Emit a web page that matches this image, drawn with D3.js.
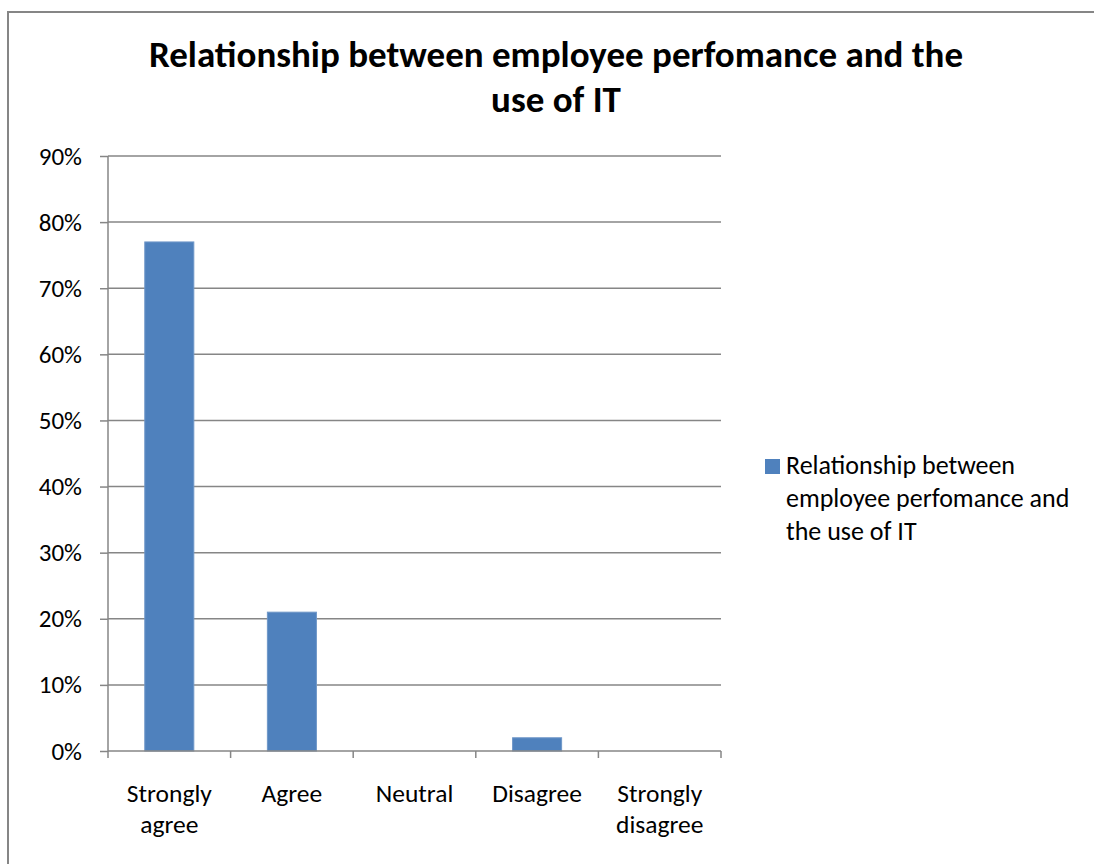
<!DOCTYPE html>
<html><head><meta charset="utf-8">
<script src="https://cdn.jsdelivr.net/npm/d3@7"></script>
<style>body{margin:0;background:#fff}svg{display:block}</style>
</head><body>
<script>
const categories = [["Strongly","agree"],["Agree"],["Neutral"],["Disagree"],["Strongly","disagree"]];
const values = [0.77, 0.21, 0, 0.02, 0];
const yTicks = [0,0.1,0.2,0.3,0.4,0.5,0.6,0.7,0.8,0.9];
const titleLines = ["Relationship between employee perfomance and the","use of IT"];
const legendLines = ["Relationship between","employee perfomance and","the use of IT"];

(function(){
const W=1094,H=864;
const svg=d3.select("body").append("svg").attr("width",W).attr("height",H);
const font="Calibri, Carlito, 'Open Sans', sans-serif";
svg.append("rect").attr("x",8).attr("y",12).attr("width",W).attr("height",H).attr("fill","#fff").attr("stroke","#868686").attr("stroke-width",2);

const pL=108,pR=721,pT=156,pB=751;
const x=d3.scaleBand().domain(d3.range(categories.length)).range([pL,pR]).paddingInner(0.6).paddingOuter(0.3);
const y=d3.scaleLinear().domain([0,0.9]).range([pB,pT]);

svg.append("g").selectAll("line").data(yTicks.filter(d=>d>0)).join("line")
 .attr("x1",pL).attr("x2",pR).attr("y1",d=>y(d)).attr("y2",d=>y(d))
 .attr("stroke","#868686").attr("stroke-width",1.5);

const ya=svg.append("g").attr("transform",`translate(${pL},0)`)
 .call(d3.axisLeft(y).tickValues(yTicks).tickFormat(d3.format(".0%")).tickSize(8).tickPadding(18));
ya.select(".domain").attr("stroke","#868686").attr("stroke-width",1.5).attr("d",`M0,${pB}V${pT}`);
ya.selectAll(".tick line").attr("stroke","#868686").attr("stroke-width",1.5);
ya.selectAll(".tick text").attr("font-family",font).attr("font-size",25).attr("fill","#000");

svg.append("g").selectAll("rect").data(values).join("rect")
 .attr("x",(d,i)=>x(i)).attr("width",x.bandwidth())
 .attr("y",d=>y(d)).attr("height",d=>pB-y(d))
 .attr("fill","#4f81bd").attr("stroke","#6f97c8").attr("stroke-width",1);

const boundaries=d3.range(categories.length+1).map(i=>pL+i*x.step());
svg.append("line").attr("x1",pL).attr("x2",pR).attr("y1",pB).attr("y2",pB).attr("stroke","#868686").attr("stroke-width",1.5);
svg.append("g").selectAll("line").data(boundaries).join("line")
 .attr("x1",d=>d).attr("x2",d=>d).attr("y1",pB).attr("y2",pB+7)
 .attr("stroke","#868686").attr("stroke-width",1.5);
const xl=svg.append("g").selectAll("text").data(categories).join("text")
 .attr("x",(d,i)=>x(i)+x.bandwidth()/2).attr("y",pB+51)
 .attr("text-anchor","middle").attr("font-family",font).attr("font-size",25.5).attr("fill","#000");
xl.selectAll("tspan").data(d=>d).join("tspan").attr("x",function(){return this.parentNode.getAttribute("x");})
 .attr("dy",(d,i)=>i?31:0).text(d=>d);

svg.append("g").selectAll("text").data(titleLines).join("text")
 .attr("x",556).attr("y",(d,i)=>67+i*45).attr("text-anchor","middle")
 .attr("font-family",font).attr("font-weight","bold").attr("font-size",37).attr("fill","#000").text(d=>d);

svg.append("rect").attr("x",765).attr("y",459).attr("width",15).attr("height",15).attr("fill","#4f81bd");
svg.append("g").selectAll("text").data(legendLines).join("text")
 .attr("x",786).attr("y",(d,i)=>474+i*33).attr("font-family",font).attr("font-size",26).attr("fill","#000").text(d=>d);
})();
</script>
</body></html>
